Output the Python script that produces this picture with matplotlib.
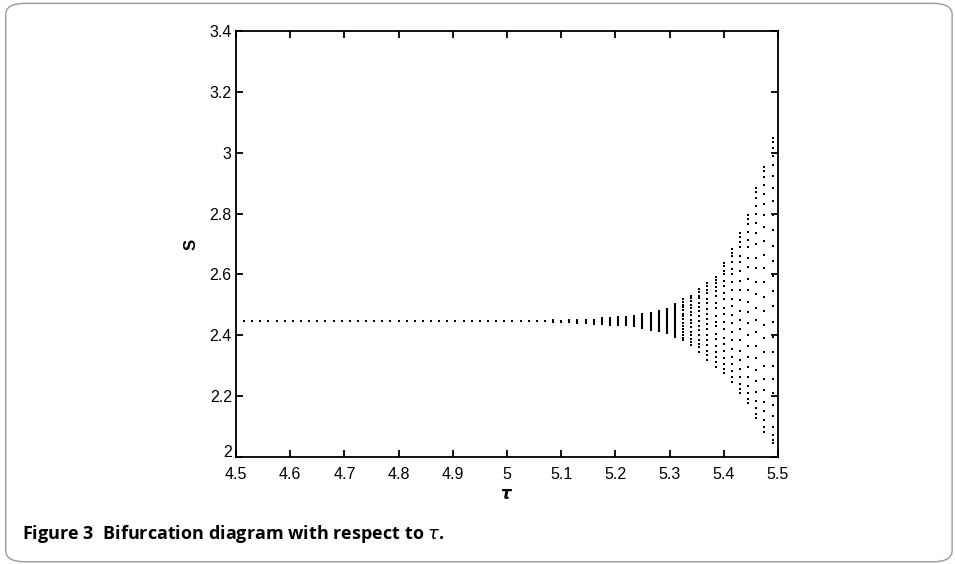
import matplotlib
matplotlib.use("Agg")
import matplotlib.pyplot as plt
from matplotlib.patches import FancyBboxPatch

# 稳定段：每个 tau 只有一个平衡值
flat_tau = [4.515, 4.53, 4.545, 4.56, 4.575, 4.59, 4.605, 4.62, 4.635, 4.65,
            4.665, 4.68, 4.695, 4.71, 4.725, 4.74, 4.755, 4.77, 4.785, 4.80,
            4.815, 4.83, 4.845, 4.86, 4.875, 4.89, 4.905, 4.92, 4.935, 4.95,
            4.965, 4.98, 4.995, 5.01, 5.025]
flat_S = 2.447

# 小振幅段：点挤在一起，看起来像短竖条（读最低/最高值）
bar_tau = [5.04, 5.055, 5.07, 5.085, 5.10, 5.115, 5.13, 5.145, 5.16, 5.175,
           5.19, 5.205, 5.22, 5.235, 5.25, 5.265, 5.28, 5.295, 5.31]
bar_lo = [2.445, 2.444, 2.443, 2.442, 2.439, 2.439, 2.437, 2.436, 2.435, 2.434,
          2.432, 2.431, 2.430, 2.426, 2.421, 2.415, 2.410, 2.404, 2.391]
bar_hi = [2.450, 2.451, 2.451, 2.452, 2.450, 2.452, 2.453, 2.454, 2.455, 2.459,
          2.460, 2.463, 2.465, 2.468, 2.472, 2.475, 2.483, 2.490, 2.506]

# 大振幅段：每列离散的点
dot_tau = [5.325, 5.34, 5.355, 5.37, 5.385, 5.40, 5.415, 5.43, 5.445, 5.46, 5.475, 5.49]
dot_S = [
    [2.519, 2.510, 2.500, 2.492, 2.484, 2.470, 2.462, 2.452, 2.440, 2.430, 2.420, 2.410, 2.400, 2.392, 2.384],
    [2.529, 2.521, 2.512, 2.500, 2.490, 2.478, 2.466, 2.450, 2.440, 2.428, 2.412, 2.400, 2.388, 2.378, 2.368],
    [2.552, 2.543, 2.530, 2.521, 2.505, 2.494, 2.480, 2.462, 2.448, 2.430, 2.418, 2.402, 2.385, 2.372, 2.360, 2.345],
    [2.572, 2.562, 2.550, 2.540, 2.520, 2.505, 2.488, 2.470, 2.455, 2.436, 2.420, 2.400, 2.384, 2.368, 2.350, 2.335, 2.319],
    [2.592, 2.583, 2.572, 2.560, 2.545, 2.530, 2.505, 2.490, 2.465, 2.445, 2.430, 2.405, 2.388, 2.364, 2.345, 2.330, 2.312, 2.296],
    [2.638, 2.628, 2.612, 2.600, 2.580, 2.562, 2.538, 2.520, 2.490, 2.470, 2.445, 2.420, 2.392, 2.372, 2.350, 2.325, 2.305, 2.290, 2.276],
    [2.684, 2.672, 2.660, 2.640, 2.618, 2.600, 2.575, 2.550, 2.520, 2.495, 2.466, 2.440, 2.412, 2.385, 2.356, 2.330, 2.305, 2.282, 2.262, 2.246],
    [2.736, 2.722, 2.706, 2.690, 2.660, 2.640, 2.610, 2.580, 2.548, 2.515, 2.480, 2.450, 2.420, 2.385, 2.350, 2.318, 2.290, 2.262, 2.240, 2.222, 2.210],
    [2.795, 2.782, 2.765, 2.740, 2.712, 2.690, 2.655, 2.625, 2.585, 2.550, 2.510, 2.478, 2.440, 2.400, 2.365, 2.330, 2.295, 2.262, 2.235, 2.210, 2.190, 2.177],
    [2.884, 2.870, 2.850, 2.825, 2.800, 2.770, 2.735, 2.700, 2.655, 2.620, 2.575, 2.535, 2.490, 2.450, 2.410, 2.365, 2.325, 2.285, 2.250, 2.215, 2.185, 2.160, 2.140, 2.128],
    [2.953, 2.940, 2.920, 2.895, 2.865, 2.830, 2.795, 2.755, 2.710, 2.665, 2.620, 2.575, 2.525, 2.480, 2.435, 2.390, 2.345, 2.300, 2.258, 2.220, 2.180, 2.150, 2.120, 2.098, 2.082],
    [3.048, 3.035, 3.015, 2.990, 2.960, 2.925, 2.885, 2.840, 2.795, 2.745, 2.695, 2.645, 2.595, 2.545, 2.495, 2.445, 2.395, 2.345, 2.300, 2.255, 2.212, 2.172, 2.135, 2.100, 2.072, 2.055, 2.046],
]

xticks = [4.5, 4.6, 4.7, 4.8, 4.9, 5.0, 5.1, 5.2, 5.3, 5.4, 5.5]
xtick_labels = ["4.5", "4.6", "4.7", "4.8", "4.9", "5", "5.1", "5.2", "5.3", "5.4", "5.5"]
yticks = [2.0, 2.2, 2.4, 2.6, 2.8, 3.0, 3.2, 3.4]
ytick_labels = ["2", "2.2", "2.4", "2.6", "2.8", "3", "3.2", "3.4"]

plt.rcParams['font.family'] = ['Liberation Sans', 'DejaVu Sans']

fig = plt.figure(figsize=(9.55, 5.64), dpi=100)

# 外框（圆角）
frame = FancyBboxPatch((0.006, 0.004), 0.991, 0.99, boxstyle="round,pad=0,rounding_size=0.02",
                       transform=fig.transFigure, fill=False, edgecolor="#9a9a9a", linewidth=1.0)
fig.patches.append(frame)

ax = fig.add_axes([0.2471, 0.1897, 0.5675, 0.7553])

ax.plot(flat_tau, [flat_S] * len(flat_tau), linestyle="none", marker="s",
        markersize=1.6, color="black", markeredgewidth=0)
ax.vlines(bar_tau, bar_lo, bar_hi, color="black", linewidth=1.5)
for t, col in zip(dot_tau, dot_S):
    ax.plot([t] * len(col), col, linestyle="none", marker="s", markersize=1.8,
            color="black", markeredgewidth=0)

ax.set_xlim(4.5, 5.5)
ax.set_ylim(2.0, 3.4)
ax.set_xticks(xticks)
ax.set_xticklabels(xtick_labels)
ax.set_yticks(yticks)
ax.set_yticklabels(ytick_labels)
ax.tick_params(direction="in", length=5, width=1.3, top=True, right=True,
               labelsize=11.5)
ax.tick_params(axis="x", pad=7)
ax.tick_params(axis="y", pad=3)
# 最下面的 "2" 稍微上提，避免和 4.5 挤在一起
ax.get_yticklabels()[0].set_verticalalignment("baseline")
for sp in ax.spines.values():
    sp.set_linewidth(1.3)

ax.set_xlabel(r"$\boldsymbol{\tau}$", fontsize=12, labelpad=4)
ax.set_ylabel("S", fontsize=12, fontweight="bold", labelpad=8)

fig.text(0.023, 0.045, "Figure 3  Bifurcation diagram with respect to $\\tau$.",
         fontsize=13, fontweight="bold", family=["Open Sans", "DejaVu Sans"],
         ha="left", va="baseline")

fig.savefig("out.png", dpi=100)
